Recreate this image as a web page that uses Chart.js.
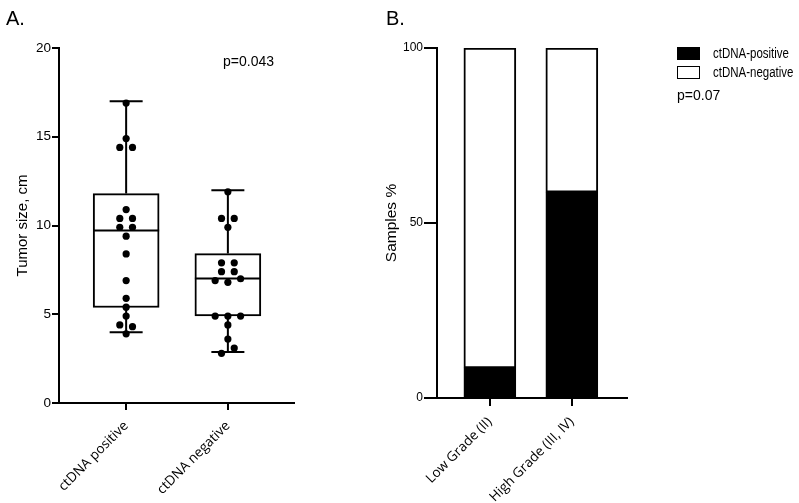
<!DOCTYPE html>
<html>
<head>
<meta charset="utf-8">
<script src="https://cdn.jsdelivr.net/npm/chart.js@4.4.1/dist/chart.umd.min.js"></script>
<style>
  html, body { margin: 0; padding: 0; background: #fff; }
  body { width: 799px; height: 503px; position: relative; overflow: hidden; font-family: "Liberation Sans", Arial, sans-serif; color: #000; }
  canvas { position: absolute; top: 0; }
  #boxChart { left: 0; }
  #gradeChart { left: 360px; }
  .txt { position: absolute; white-space: nowrap; line-height: 1; }
  .panel { font-size: 20px; }
  .pval { font-size: 14px; }
  .legend-box { position: absolute; width: 23px; height: 13px; box-sizing: border-box; border: 1.5px solid #000; }
  .legend-label { font-size: 14px; transform: scaleX(0.82); transform-origin: 0 50%; }
</style>
</head>
<body>
<canvas id="boxChart" width="360" height="503"></canvas>
<canvas id="gradeChart" width="439" height="503"></canvas>

<div class="txt panel" style="left:6px; top:8px;">A.</div>
<div class="txt panel" style="left:386px; top:8px;">B.</div>
<div class="txt pval" style="left:223px; top:54px;">p=0.043</div>

<div class="legend-box" style="left:677px; top:47px; background:#000;"></div>
<div class="legend-box" style="left:677px; top:66px; background:#fff;"></div>
<div class="txt legend-label" style="left:713px; top:46px;">ctDNA-positive</div>
<div class="txt legend-label" style="left:713px; top:65px;">ctDNA-negative</div>
<div class="txt pval" style="left:677px; top:88px;">p=0.07</div>

<script>
    "use strict";

    // Panel A - tumor size by ctDNA status
    var groupLabels = ['ctDNA positive', 'ctDNA negative'];
    var groupX = [1, 2];
    var positiveSizes = [16.9, 14.9, 14.4, 14.4, 10.9, 10.4, 10.4, 9.9, 9.9, 9.4, 8.4, 6.9, 5.9, 5.4, 4.9, 4.4, 4.3, 3.9];
    var negativeSizes = [11.9, 10.4, 10.4, 9.9, 7.9, 7.9, 7.4, 7.4, 6.9, 6.8, 7.0, 4.9, 4.9, 4.9, 4.4, 3.6, 2.8, 3.1];
    // box statistics as drawn
    var boxMin = [3.98, 2.87];
    var boxQ1 = [5.38, 4.90];
    var boxMedian = [9.72, 7.02];
    var boxQ3 = [11.80, 8.42];
    var boxMax = [17.0, 11.99];
    var sizeTicks = [0, 5, 10, 15, 20];

    // Panel B - grade vs ctDNA
    var gradeLabels = ['Low Grade (II)', 'High Grade (III, IV)'];
    var gradeX = [1, 2];
    var pctPositive = [8.6, 58.8];
    var pctNegative = [91.4, 41.2];
    var pctTicks = [0, 50, 100];

    Chart.defaults.font.family = '"Liberation Sans", Arial, sans-serif';
    Chart.defaults.color = '#000';
    Chart.defaults.animation = false;

    var binSize = 0.5;
    var dotStep = 0.125;

    // spread dots that share a bin side by side
    function swarm(values, center) {
        var bins = {};
        var keys = [];
        values.forEach(function (v) {
            var k = Math.round(v / binSize);
            if (!bins[k]) { bins[k] = []; keys.push(k); }
            bins[k].push(v);
        });
        var pts = [];
        keys.forEach(function (k) {
            var b = bins[k];
            b.forEach(function (v, j) {
                pts.push({ x: center + (j - (b.length - 1) / 2) * dotStep, y: v });
            });
        });
        return pts;
    }

    var dots = swarm(positiveSizes, groupX[0]).concat(swarm(negativeSizes, groupX[1]));

    // whiskers and median line, drawn right after the boxes
    var whiskerPlugin = {
        id: 'whiskers',
        afterDatasetDraw: function (chart, args) {
            if (args.index !== 0) return;
            var ctx = chart.ctx;
            var y = chart.scales.y;
            ctx.save();
            ctx.strokeStyle = '#000';
            ctx.lineWidth = 2;
            args.meta.data.forEach(function (el, i) {
                var x = el.x, hw = el.width / 2, cap = el.width / 4;
                ctx.beginPath();
                ctx.moveTo(x - hw, y.getPixelForValue(boxMedian[i]));
                ctx.lineTo(x + hw, y.getPixelForValue(boxMedian[i]));
                ctx.moveTo(x, y.getPixelForValue(boxQ3[i]));
                ctx.lineTo(x, y.getPixelForValue(boxMax[i]));
                ctx.moveTo(x, y.getPixelForValue(boxQ1[i]));
                ctx.lineTo(x, y.getPixelForValue(boxMin[i]));
                ctx.moveTo(x - cap, y.getPixelForValue(boxMax[i]));
                ctx.lineTo(x + cap, y.getPixelForValue(boxMax[i]));
                ctx.moveTo(x - cap, y.getPixelForValue(boxMin[i]));
                ctx.lineTo(x + cap, y.getPixelForValue(boxMin[i]));
                ctx.stroke();
            });
            ctx.restore();
        }
    };

    function axisGrid(len) {
        return { drawOnChartArea: false, drawTicks: true, tickLength: len, color: '#000', lineWidth: 2, offset: false };
    }

    new Chart(document.getElementById('boxChart'), {
        type: 'bar',
        data: {
            datasets: [{
                label: 'box',
                data: groupX.map(function (x, i) { return { x: x, y: [boxQ1[i], boxQ3[i]] }; }),
                backgroundColor: '#fff',
                borderColor: '#000',
                borderWidth: 2,
                borderSkipped: false,
                barThickness: 66,
                order: 1
            }, {
                type: 'scatter',
                label: 'tumor size',
                data: dots,
                pointRadius: 3.6,
                pointBackgroundColor: '#000',
                pointBorderWidth: 0,
                order: 0
            }]
        },
        options: {
            responsive: false,
            layout: { padding: { left: 0, top: 48, right: 66, bottom: 0 } },
            plugins: { legend: { display: false }, tooltip: { enabled: false } },
            scales: {
                x: {
                    type: 'linear',
                    min: 0.34,
                    max: 2.65,
                    offset: false,
                    afterBuildTicks: function (scale) {
                        scale.ticks = groupX.map(function (v) { return { value: v }; });
                    },
                    afterFit: function (scale) { scale.height = 100; },
                    ticks: {
                        minRotation: 45,
                        maxRotation: 45,
                        padding: 8,
                        font: { family: '"Open Sans", sans-serif', size: 13.5 },
                        callback: function (value, index) { return groupLabels[index]; }
                    },
                    grid: axisGrid(7),
                    border: { color: '#000', width: 2 }
                },
                y: {
                    min: 0,
                    max: 20,
                    afterBuildTicks: function (scale) {
                        scale.ticks = sizeTicks.map(function (v) { return { value: v }; });
                    },
                    afterFit: function (scale) { scale.width = 59; },
                    ticks: { padding: 1, font: { size: 13.5 } },
                    grid: axisGrid(7),
                    border: { color: '#000', width: 2 },
                    title: { display: true, text: 'Tumor size, cm', font: { size: 15 }, padding: { top: 14, bottom: 0 } }
                }
            }
        },
        plugins: [whiskerPlugin]
    });

    new Chart(document.getElementById('gradeChart'), {
        type: 'bar',
        data: {
            datasets: [{
                label: 'ctDNA-positive',
                data: gradeX.map(function (x, i) { return { x: x, y: pctPositive[i] }; }),
                backgroundColor: '#000',
                borderColor: '#000',
                borderWidth: 2,
                borderSkipped: false,
                barThickness: 52
            }, {
                label: 'ctDNA-negative',
                data: gradeX.map(function (x, i) { return { x: x, y: pctNegative[i] }; }),
                backgroundColor: '#fff',
                borderColor: '#000',
                borderWidth: 2,
                borderSkipped: false,
                barThickness: 52
            }]
        },
        options: {
            responsive: false,
            layout: { padding: { left: 0, top: 48, right: 172, bottom: 0 } },
            plugins: { legend: { display: false }, tooltip: { enabled: false } },
            scales: {
                x: {
                    type: 'linear',
                    stacked: true,
                    min: 0.355,
                    max: 2.673,
                    offset: false,
                    afterBuildTicks: function (scale) {
                        scale.ticks = gradeX.map(function (v) { return { value: v }; });
                    },
                    afterFit: function (scale) { scale.height = 105; },
                    ticks: {
                        minRotation: 45,
                        maxRotation: 45,
                        padding: 8,
                        font: { family: '"Open Sans", sans-serif', size: 13.5 },
                        callback: function (value, index) { return gradeLabels[index]; }
                    },
                    grid: axisGrid(8),
                    border: { color: '#000', width: 2 }
                },
                y: {
                    stacked: true,
                    min: 0,
                    max: 100,
                    afterBuildTicks: function (scale) {
                        scale.ticks = pctTicks.map(function (v) { return { value: v }; });
                    },
                    afterFit: function (scale) { scale.width = 77; },
                    ticks: { padding: 1, font: { size: 12 } },
                    grid: axisGrid(13),
                    border: { color: '#000', width: 2 },
                    title: { display: true, text: 'Samples %', font: { size: 15.5 }, padding: { top: 22, bottom: 0 } }
                }
            }
        }
    });
</script>
</body>
</html>
